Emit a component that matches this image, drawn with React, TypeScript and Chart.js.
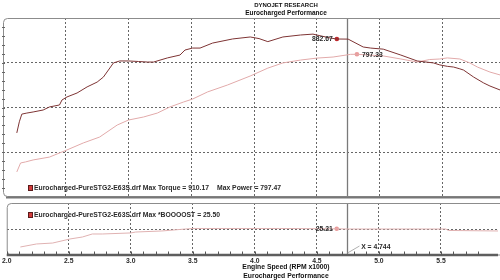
import React, { useEffect, useRef } from 'react';
import { Chart, registerables } from 'chart.js';

Chart.register(...registerables);

// ---- axis ranges / ticks ----
const X_MIN = 2.0;
const X_MAX = 5.96;
const X_MINOR_STEP = 0.1;
const X_MAJOR_STEP = 0.5;
const TOP_Y_MAX = 1000;
const TOP_Y_STEP = 250;
const TOP_Y_MINOR = 50;
const BOOST_Y_MAX = 50;
const BOOST_Y_STEP = 25;

// ---- texts ----
const chartTitle = ['DYNOJET RESEARCH', 'Eurocharged Performance'];
const xAxisTitle = ['Engine Speed (RPM x1000)', 'Eurocharged Performance'];
const runName = 'Eurocharged-PureSTG2-E63S.drf';
const maxTorque = '910.17';
const maxPower = '797.47';
const maxBoost = '25.50';

// ---- data (RPM x1000) ----
const torqueRpm = [2.11, 2.13, 2.15, 2.19, 2.24, 2.32, 2.37, 2.45, 2.47, 2.51, 2.59, 2.67, 2.75, 2.8, 2.88, 2.93, 3.0, 3.08, 3.15, 3.2, 3.31, 3.41, 3.45, 3.51, 3.57, 3.67, 3.83, 3.97, 4.04, 4.11, 4.23, 4.37, 4.47, 4.5, 4.61, 4.66, 4.75, 4.87, 4.93, 5.03, 5.17, 5.3, 5.43, 5.48, 5.54, 5.59, 5.64, 5.67, 5.75, 5.83, 5.88, 5.96];
const torque = [358, 420, 463, 469, 475, 486, 503, 514, 542, 559, 581, 615, 642, 670, 749, 760, 760, 757, 754, 754, 777, 793, 821, 832, 832, 860, 883, 894, 885, 868, 894, 905, 910, 905, 888, 882.67, 882, 838, 832, 826, 793, 760, 749, 738, 730, 726, 716, 709, 670, 637, 620, 598];

const powerRpm = [2.11, 2.14, 2.18, 2.24, 2.37, 2.51, 2.64, 2.77, 2.91, 3.0, 3.12, 3.23, 3.33, 3.44, 3.51, 3.63, 3.79, 3.97, 4.11, 4.23, 4.37, 4.5, 4.63, 4.77, 4.82, 5.03, 5.17, 5.3, 5.4, 5.48, 5.54, 5.64, 5.72, 5.78, 5.88, 5.96];
const power = [140, 190, 196, 207, 223, 263, 302, 335, 402, 430, 447, 469, 503, 531, 547, 587, 626, 676, 720, 749, 765, 776, 782, 797, 797.33, 788, 771, 754, 768, 771, 777, 771, 749, 726, 698, 682];

const boostRpm = [2.11, 2.24, 2.37, 2.51, 2.61, 2.69, 2.77, 3.0, 3.04, 3.25, 3.44, 3.51, 3.8, 4.2, 4.66, 4.75, 5.0, 5.54, 5.56, 5.96];
const boost = [7.7, 10.6, 11.5, 15.4, 17.3, 20.2, 20.2, 21.2, 22.1, 23.1, 25.0, 25.5, 25.5, 25.5, 25.21, 25.0, 25.0, 25.0, 23.6, 23.1];

// ---- cursor / markers ----
const cursorRpm = 4.744;
const cursorLabel = 'X = 4.744';
const topMarkerRpm = [4.66, 4.82];
const topMarkerValue = [882.67, 797.33];
const boostMarkerRpm = [4.66];
const boostMarkerValue = [25.21];

// ---- styles ----
const TORQUE_COLOR = '#7e3434';
const POWER_COLOR = '#e2aaaa';
const BOOST_COLOR = '#e0b2b2';
const GRID_COLOR = '#666666';
const PANEL_COLOR = '#8c8c8c';
const TEXT_COLOR = '#2a2a2a';
const FONT_FAMILY = '"Liberation Sans", Arial, sans-serif';
const TEXT_CENTER_X = 286;
const LABEL_SIZE = 6.8;

const pts = (xs: number[], ys: number[]) => xs.map((x, i) => ({ x, y: ys[i] }));
const isMajor = (v: number) => Math.abs(v / X_MAJOR_STEP - Math.round(v / X_MAJOR_STEP)) < 1e-6;

function roundedPath(ctx: CanvasRenderingContext2D, l: number, t: number, r: number, b: number, rad: number) {
  ctx.beginPath();
  ctx.moveTo(r, t);
  ctx.lineTo(l + rad, t);
  ctx.quadraticCurveTo(l, t, l, t + rad);
  ctx.lineTo(l, b - rad);
  ctx.quadraticCurveTo(l, b, l + rad, b);
  ctx.lineTo(r, b);
}

function font(size: number) {
  return `bold ${size}px ${FONT_FAMILY}`;
}

function legendSwatch(ctx: CanvasRenderingContext2D, x: number, y: number) {
  ctx.fillStyle = '#d23c3c';
  ctx.fillRect(x, y - 3, 5, 6);
  ctx.strokeStyle = '#5a1a1a';
  ctx.lineWidth = 1;
  ctx.strokeRect(x + 0.5, y - 2.5, 4, 5);
}

const xScale = (showLabels: boolean, axisHeight: number) => ({
  type: 'linear' as const,
  min: X_MIN,
  max: X_MAX,
  afterFit: (s: any) => { s.height = axisHeight; },
  border: { display: false, dash: [2, 2] },
  grid: {
    drawTicks: false,
    lineWidth: 1,
    color: (c: any) => (c.tick && isMajor(c.tick.value) && c.tick.value > X_MIN + 1e-6 ? GRID_COLOR : 'rgba(0,0,0,0)'),
  },
  ticks: {
    display: showLabels,
    stepSize: X_MINOR_STEP,
    autoSkip: false,
    maxRotation: 0,
    padding: 2,
    color: TEXT_COLOR,
    font: { family: FONT_FAMILY, size: LABEL_SIZE, weight: 'bold' as const },
    callback: (v: any) => (isMajor(Number(v)) ? Number(v).toFixed(1) : ''),
  },
});

const yScale = (max: number, step: number) => ({
  type: 'linear' as const,
  min: 0,
  max,
  afterFit: (s: any) => { s.width = 0; },
  border: { display: false, dash: [2, 2] },
  grid: {
    drawTicks: false,
    lineWidth: 1,
    color: (c: any) => (c.tick && c.tick.value > 0 && c.tick.value < max ? GRID_COLOR : 'rgba(0,0,0,0)'),
  },
  ticks: { display: false, stepSize: step },
});

const topDecor = {
  id: 'topDecor',
  beforeDatasetsDraw(chart: any) {
    const { ctx, chartArea: a, scales } = chart;
    ctx.save();
    const cx = Math.round(scales.x.getPixelForValue(cursorRpm)) + 0.5;
    ctx.strokeStyle = '#7a7a7a';
    ctx.lineWidth = 1.3;
    ctx.beginPath();
    ctx.moveTo(cx, a.top);
    ctx.lineTo(cx, a.bottom);
    ctx.stroke();
    ctx.restore();
  },
  afterDatasetsDraw(chart: any) {
    const { ctx, chartArea: a, scales } = chart;
    ctx.save();
    // panel frame
    ctx.strokeStyle = PANEL_COLOR;
    ctx.lineWidth = 1;
    roundedPath(ctx, a.left + 0.5, a.top + 0.5, a.right + 5, a.bottom - 0.5, 4);
    ctx.stroke();
    ctx.strokeStyle = '#777777';
    ctx.lineWidth = 2;
    ctx.beginPath();
    ctx.moveTo(a.left + 3, a.bottom + 0.5);
    ctx.lineTo(a.right, a.bottom + 0.5);
    ctx.stroke();
    // minor ticks on left edge
    ctx.strokeStyle = '#666666';
    ctx.lineWidth = 1;
    for (let v = TOP_Y_MINOR; v < TOP_Y_MAX; v += TOP_Y_MINOR) {
      const y = Math.round(scales.y.getPixelForValue(v)) + 0.5;
      ctx.beginPath();
      ctx.moveTo(a.left - 1, y);
      ctx.lineTo(a.left + 2, y);
      ctx.stroke();
    }
    // marker labels
    const meta = chart.getDatasetMeta(2);
    ctx.font = font(LABEL_SIZE);
    ctx.fillStyle = TEXT_COLOR;
    ctx.textBaseline = 'middle';
    const p0 = meta.data[0];
    const p1 = meta.data[1];
    ctx.textAlign = 'right';
    ctx.fillText(topMarkerValue[0].toFixed(2), p0.x - 4, p0.y + 0.5);
    ctx.textAlign = 'left';
    ctx.fillText(topMarkerValue[1].toFixed(2), p1.x + 5, p1.y + 0.5);
    // legend
    legendSwatch(ctx, 28, 188);
    ctx.fillStyle = TEXT_COLOR;
    ctx.textAlign = 'left';
    ctx.fillText(`${runName} Max Torque = ${maxTorque}`, 34, 188.5);
    ctx.fillText(`Max Power = ${maxPower}`, 217, 188.5);
    // title
    ctx.textAlign = 'center';
    ctx.font = font(6);
    ctx.fillStyle = '#111111';
    ctx.fillText(chartTitle[0], TEXT_CENTER_X, 5);
    ctx.font = font(6.5);
    ctx.fillText(chartTitle[1], TEXT_CENTER_X, 13);
    ctx.restore();
  },
};

const bottomDecor = {
  id: 'bottomDecor',
  beforeDatasetsDraw(chart: any) {
    const { ctx, chartArea: a, scales } = chart;
    ctx.save();
    const cx = Math.round(scales.x.getPixelForValue(cursorRpm)) + 0.5;
    ctx.strokeStyle = '#7a7a7a';
    ctx.lineWidth = 1.3;
    ctx.beginPath();
    ctx.moveTo(cx, a.top);
    ctx.lineTo(cx, a.bottom);
    ctx.stroke();
    // leader line to cursor label
    ctx.strokeStyle = '#b0b0b0';
    ctx.lineWidth = 1;
    ctx.beginPath();
    ctx.moveTo(cx, a.bottom - 2);
    ctx.lineTo(cx + 12, a.bottom - 9);
    ctx.stroke();
    ctx.restore();
  },
  afterDatasetsDraw(chart: any) {
    const { ctx, chartArea: a, scales } = chart;
    ctx.save();
    // frame
    ctx.strokeStyle = PANEL_COLOR;
    ctx.lineWidth = 1;
    roundedPath(ctx, a.left + 0.5, a.top + 0.5, a.right + 5, a.bottom, 4);
    ctx.stroke();
    // axis line
    ctx.strokeStyle = '#5e5e5e';
    ctx.lineWidth = 2.5;
    ctx.beginPath();
    ctx.moveTo(a.left, a.bottom);
    ctx.lineTo(a.right, a.bottom);
    ctx.stroke();
    // minor ticks from library ticks
    ctx.strokeStyle = '#555555';
    ctx.lineWidth = 1;
    scales.x.ticks.forEach((t: any) => {
      if (t.value > X_MAX - 1e-6) return;
      const x = Math.round(scales.x.getPixelForValue(t.value)) + 0.5;
      ctx.beginPath();
      ctx.moveTo(x, a.bottom - 3.5);
      ctx.lineTo(x, a.bottom);
      ctx.stroke();
    });
    // boost marker label
    const p = chart.getDatasetMeta(1).data[0];
    ctx.font = font(LABEL_SIZE);
    ctx.fillStyle = TEXT_COLOR;
    ctx.textBaseline = 'middle';
    ctx.textAlign = 'right';
    ctx.fillText(boostMarkerValue[0].toFixed(2), p.x - 4, p.y + 0.5);
    // cursor label
    const cx = scales.x.getPixelForValue(cursorRpm);
    ctx.textAlign = 'left';
    ctx.fillText(cursorLabel, cx + 14, a.bottom - 8);
    // legend
    legendSwatch(ctx, 28, 215);
    ctx.fillStyle = TEXT_COLOR;
    ctx.fillText(`${runName} Max *BOOOOST = ${maxBoost}`, 34, 215.5);
    // axis titles
    ctx.textAlign = 'center';
    ctx.fillStyle = '#111111';
    ctx.fillText(xAxisTitle[0], TEXT_CENTER_X, 267.5);
    ctx.fillText(xAxisTitle[1], TEXT_CENTER_X, 276.5);
    ctx.restore();
  },
};

export default function App() {
  const topRef = useRef<HTMLCanvasElement>(null);
  const bottomRef = useRef<HTMLCanvasElement>(null);

  useEffect(() => {
    const common = {
      animation: false as const,
      responsive: false,
      maintainAspectRatio: false,
      devicePixelRatio: 1,
      events: [] as any[],
      plugins: { legend: { display: false }, tooltip: { enabled: false }, title: { display: false } },
    };

    const top = new Chart(topRef.current!, {
      type: 'line',
      data: {
        datasets: [
          { label: 'Torque', data: pts(torqueRpm, torque), borderColor: TORQUE_COLOR, borderWidth: 1, pointRadius: 0, tension: 0 },
          { label: 'Power', data: pts(powerRpm, power), borderColor: POWER_COLOR, borderWidth: 1, pointRadius: 0, tension: 0 },
          {
            type: 'scatter' as any,
            label: 'Cursor',
            data: pts(topMarkerRpm, topMarkerValue),
            pointRadius: 2.3,
            pointBorderWidth: 0,
            pointBackgroundColor: ['#c0282c', '#ea9a9a'],
            showLine: false,
          },
        ],
      },
      options: {
        ...common,
        layout: { autoPadding: false, padding: { left: 3, top: 18, right: 0, bottom: 83 } },
        scales: { x: xScale(false, 0), y: yScale(TOP_Y_MAX, TOP_Y_STEP) },
      } as any,
      plugins: [topDecor],
    });

    const bottom = new Chart(bottomRef.current!, {
      type: 'line',
      data: {
        datasets: [
          { label: 'Boost', data: pts(boostRpm, boost), borderColor: BOOST_COLOR, borderWidth: 1, pointRadius: 0, tension: 0 },
          {
            type: 'scatter' as any,
            label: 'Cursor',
            data: pts(boostMarkerRpm, boostMarkerValue),
            pointRadius: 2.3,
            pointBorderWidth: 0,
            pointBackgroundColor: '#ea9a9a',
            showLine: false,
          },
        ],
      },
      options: {
        ...common,
        layout: { autoPadding: false, padding: { left: 3, top: 203, right: 0, bottom: 0 } },
        scales: { x: xScale(true, 25), y: yScale(BOOST_Y_MAX, BOOST_Y_STEP) },
      } as any,
      plugins: [bottomDecor],
    });

    return () => {
      top.destroy();
      bottom.destroy();
    };
  }, []);

  const canvasStyle: React.CSSProperties = { position: 'absolute', left: 0, top: 0, display: 'block' };
  return (
    <div style={{ position: 'absolute', left: 0, top: 0, width: 500, height: 280, overflow: 'hidden', background: '#ffffff' }}>
      <canvas ref={topRef} width={500} height={280} style={{ ...canvasStyle, width: 500, height: 280 }} />
      <canvas ref={bottomRef} width={500} height={280} style={{ ...canvasStyle, width: 500, height: 280 }} />
    </div>
  );
}
